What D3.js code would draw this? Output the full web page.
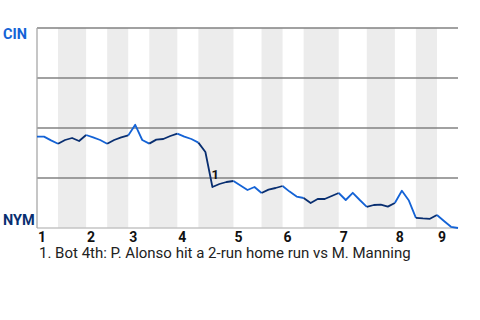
<!DOCTYPE html>
<html>
<head>
<meta charset="utf-8">
<script src="https://cdn.jsdelivr.net/npm/d3@7"></script>
<style>
  body { margin: 0; background: #fff; }
  svg { display: block; font-family: Roboto, "Noto Sans", sans-serif; }
</style>
</head>
<body>
<div id="chart"></div>
<script>
// Win probability, CIN @ NYM. One point per event, NYM win % (0 = CIN wins, 100 = NYM wins).

const innings = ["1", "2", "3", "4", "5", "6", "7", "8", "9"];
// events per half inning: top 1, bot 1, top 2, ... top 9
const halfSizes = [3, 4, 3, 3, 3, 4, 3, 5, 4, 3, 3, 5, 4, 4, 3, 3, 3];
const nymWinPct = [
  54.3, 54.3, 56.2, 57.9, 56, 55, 56.5, 53.5, 54.7, 56,
  57.9, 56, 54.7, 53.7, 48.4, 56, 57.8, 55.8, 55.5, 54,
  52.8, 54.3, 55.5, 57.3, 62, 79.5, 78, 77, 76.5, 78.8,
  81, 79.5, 82.5, 80.8, 80, 79, 81.8, 84.3, 85, 87.5,
  85.5, 85.5, 84, 82.5, 86, 82.4, 86, 89.4, 88.5, 88.3,
  89.3, 87.5, 81.4, 86.3, 94.9, 95.2, 95.4, 93.5, 96.5, 99.4,
  100
];
const gridTicks = [0, 25, 50, 75];
const teams = { away: "CIN", home: "NYM" };
const notes = [
  { idx: 25, mark: "1", text: "1. Bot 4th: P. Alonso hit a 2-run home run vs M. Manning" }
];

const colAway = "#1463d6", colHome = "#082e70";
const width = 480, height = 320;
const margin = { top: 28, right: 22, bottom: 92, left: 37 };

const svg = d3.select("#chart").append("svg")
  .attr("width", width).attr("height", height);

const x = d3.scaleLinear().domain([0, nymWinPct.length - 1]).range([margin.left, width - margin.right]);
const y = d3.scaleLinear().domain([0, 100]).range([margin.top, height - margin.bottom]);

// half-inning spans
let acc = 0;
const halves = halfSizes.map((n, i) => {
  const h = { start: acc, end: acc + n, top: i % 2 === 0, inning: Math.floor(i / 2) };
  acc += n;
  return h;
});

// shaded bottom halves
svg.append("g").selectAll("rect")
  .data(halves.filter(h => !h.top))
  .join("rect")
  .attr("x", h => x(h.start)).attr("width", h => x(h.end) - x(h.start))
  .attr("y", y(0)).attr("height", y(100) - y(0))
  .attr("fill", "#ececec");

// grid
svg.append("g").selectAll("line")
  .data(gridTicks)
  .join("line")
  .attr("x1", x(0)).attr("x2", x(nymWinPct.length - 1))
  .attr("y1", d => y(d)).attr("y2", d => y(d))
  .attr("stroke", "#828282").attr("stroke-width", 1.3);

svg.append("line")
  .attr("x1", x(0)).attr("x2", x(nymWinPct.length - 1))
  .attr("y1", y(100)).attr("y2", y(100))
  .attr("stroke", "#c4c4c4").attr("stroke-width", 1.3);
svg.append("line")
  .attr("x1", x(0)).attr("x2", x(0))
  .attr("y1", y(0)).attr("y2", y(100))
  .attr("stroke", "#a8a8a8").attr("stroke-width", 1.3);

// line, coloured by batting team
const line = d3.line().x(d => x(d[0])).y(d => y(d[1]));
svg.append("g").selectAll("path")
  .data(halves)
  .join("path")
  .attr("d", h => line(d3.range(h.start, h.end + 1).map(i => [i, nymWinPct[i]])))
  .attr("fill", "none")
  .attr("stroke", h => h.top ? colAway : colHome)
  .attr("stroke-width", 1.8)
  .attr("stroke-linejoin", "round");

// inning labels
svg.append("g").selectAll("text")
  .data(halves.filter(h => h.top))
  .join("text")
  .attr("x", h => x(h.start) + 1).attr("y", 242)
  .attr("font-size", 14).attr("font-weight", 700).attr("fill", "#111")
  .text(h => innings[h.inning]);

// team labels
svg.append("text").attr("x", 3).attr("y", y(0) + 11)
  .attr("font-size", 14.5).attr("font-weight", 700).attr("fill", colAway)
  .text(teams.away);
svg.append("text").attr("x", 3).attr("y", y(100) - 3)
  .attr("font-size", 14.5).attr("font-weight", 700).attr("fill", colHome)
  .text(teams.home);

// annotations
svg.append("g").selectAll("text")
  .data(notes)
  .join("text")
  .attr("x", d => x(d.idx) - 1).attr("y", d => y(nymWinPct[d.idx]) - 8)
  .attr("font-size", 13).attr("font-weight", 700).attr("fill", "#111")
  .text(d => d.mark);

svg.append("g").selectAll("text")
  .data(notes)
  .join("text")
  .attr("x", 39).attr("y", (d, i) => 258 + i * 18)
  .attr("font-size", 15).attr("fill", "#222")
  .text(d => d.text);
</script>
</body>
</html>
